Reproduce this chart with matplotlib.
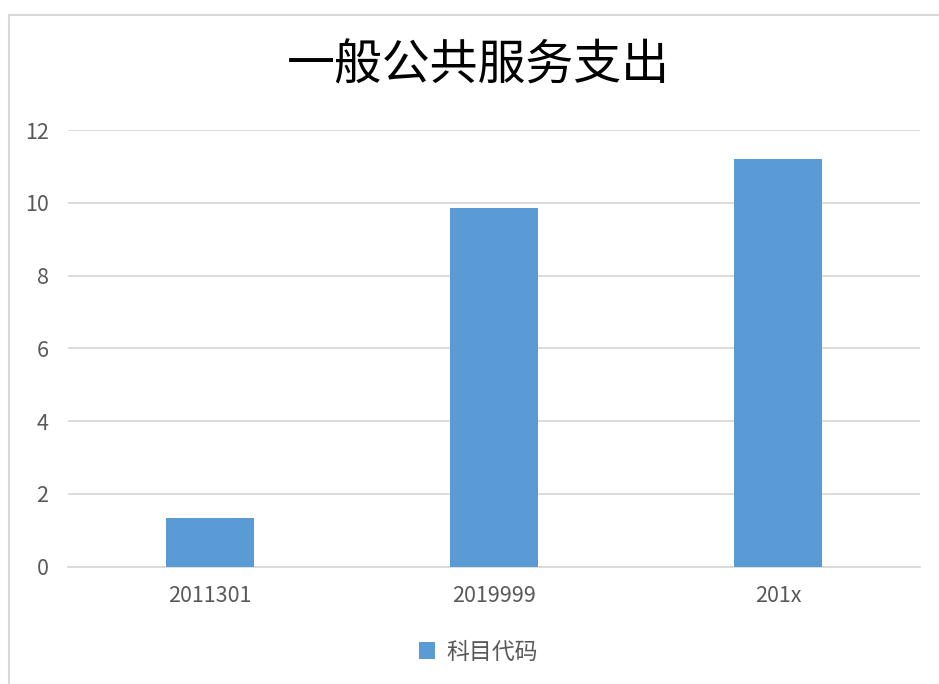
import matplotlib
matplotlib.use("Agg")
import matplotlib.pyplot as plt
from matplotlib.patches import Rectangle

plt.rcParams['font.family'] = ['Noto Sans CJK SC', 'DejaVu Sans']

title = "一般公共服务支出"
categories = ["2011301", "2019999", "201x"]
values = [1.33, 9.87, 11.2]
series_name = "科目代码"
yticks = [0, 2, 4, 6, 8, 10, 12]

bar_color = "#5B9BD5"
text_color = "#595959"
grid_color = "#D9D9D9"

fig = plt.figure(figsize=(9.39, 6.84), dpi=100)
fig.patch.set_facecolor("white")

# chart border (only left/top visible in reference)
fig.add_artist(Rectangle((9/939, -0.1), 1.2, 1 - 15/684 + 0.1, transform=fig.transFigure,
                         fill=False, edgecolor="#D9D9D9", linewidth=1.5))

ax = fig.add_axes([68/939, 1 - 566.7/684, (920 - 68)/939, (566.7 - 130)/684])
x = range(len(categories))
ax.bar(x, values, width=0.313, color=bar_color, label=series_name, zorder=3)
ax.set_xlim(-0.5, len(categories) - 0.5)
ax.set_ylim(0, 12)
ax.set_yticks(yticks)
ax.set_yticklabels([str(v) for v in yticks])
ax.set_xticks(list(x))
ax.set_xticklabels(categories)
ax.yaxis.grid(True, color=grid_color, linewidth=1.3, zorder=0)
for s in ["top", "right", "left"]:
    ax.spines[s].set_visible(False)
ax.spines["bottom"].set_color(grid_color)
ax.spines["bottom"].set_linewidth(1.3)
ax.tick_params(axis="both", length=0, labelsize=15.5, colors=text_color)
ax.tick_params(axis="y", pad=14)
ax.tick_params(axis="x", pad=13)

fig.text(478/939, 1 - 66/684, title, ha="center", va="center", fontsize=34.5,
         fontweight="medium", color="black")

leg = fig.legend(loc="center", bbox_to_anchor=(478/939, 1 - 652/684), frameon=False,
                 fontsize=16.5, handlelength=0.7, handleheight=0.7, handletextpad=0.5)
for t in leg.get_texts():
    t.set_color(text_color)

fig.savefig("out.png", dpi=100, facecolor="white")
